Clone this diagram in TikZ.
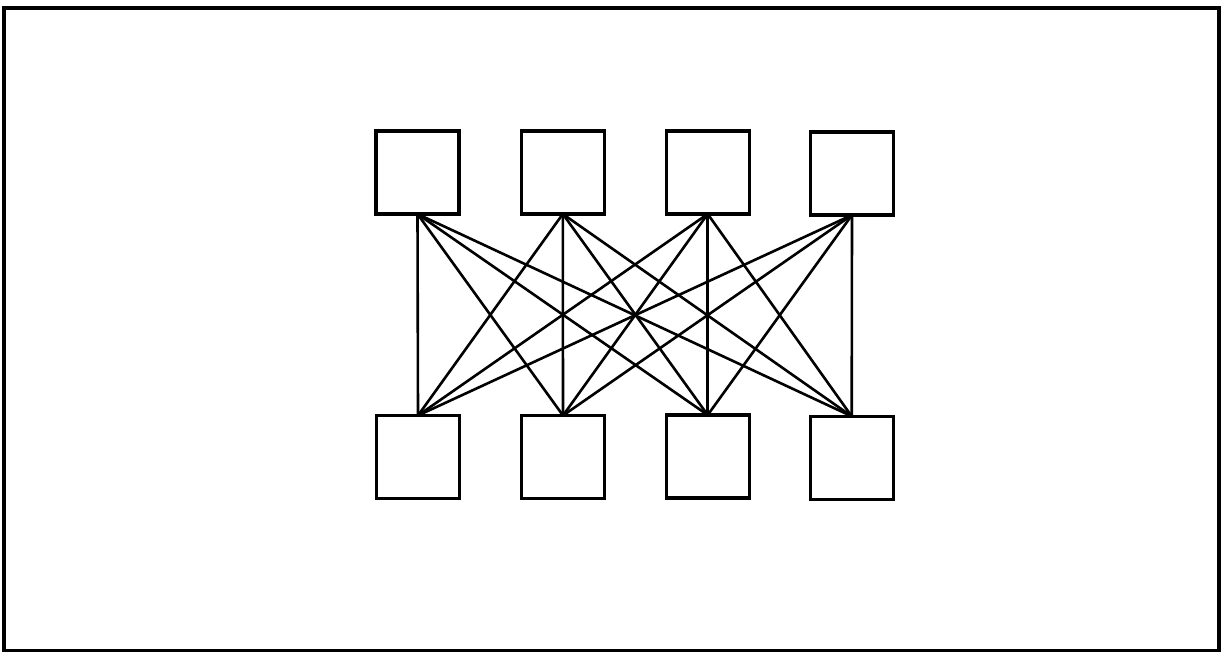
\documentclass[tikz,border=0pt]{standalone}
\begin{document}
\begin{tikzpicture}[x=1pt,y=-1pt,
  unit/.style={draw=black,line width=3.4pt,rectangle,minimum width=83pt,minimum height=83pt,inner sep=0pt,outer sep=0pt},
  link/.style={draw=black,line width=2.6pt},
  frame/.style={draw=black,line width=3.4pt}]
\useasboundingbox (0,0) rectangle (1221,652);
\draw[frame] (4,8) rectangle (1219,651);
% top row
\node[unit] (t1) at (417.5,172.5) {};
\node[unit] (t2) at (562.8,172.5) {};
\node[unit] (t3) at (707.7,172.5) {};
\node[unit] (t4) at (852,173.5) {};
% bottom row
\node[unit] (b1) at (418,457) {};
\node[unit] (b2) at (563,457) {};
\node[unit] (b3) at (707.7,456.5) {};
\node[unit] (b4) at (851.7,457.8) {};
% full bipartite connections
\foreach \i in {1,2,3,4}{
  \foreach \j in {1,2,3,4}{
    \draw[link] (t\i.south) -- (b\j.north);
  }
}
\end{tikzpicture}
\end{document}
